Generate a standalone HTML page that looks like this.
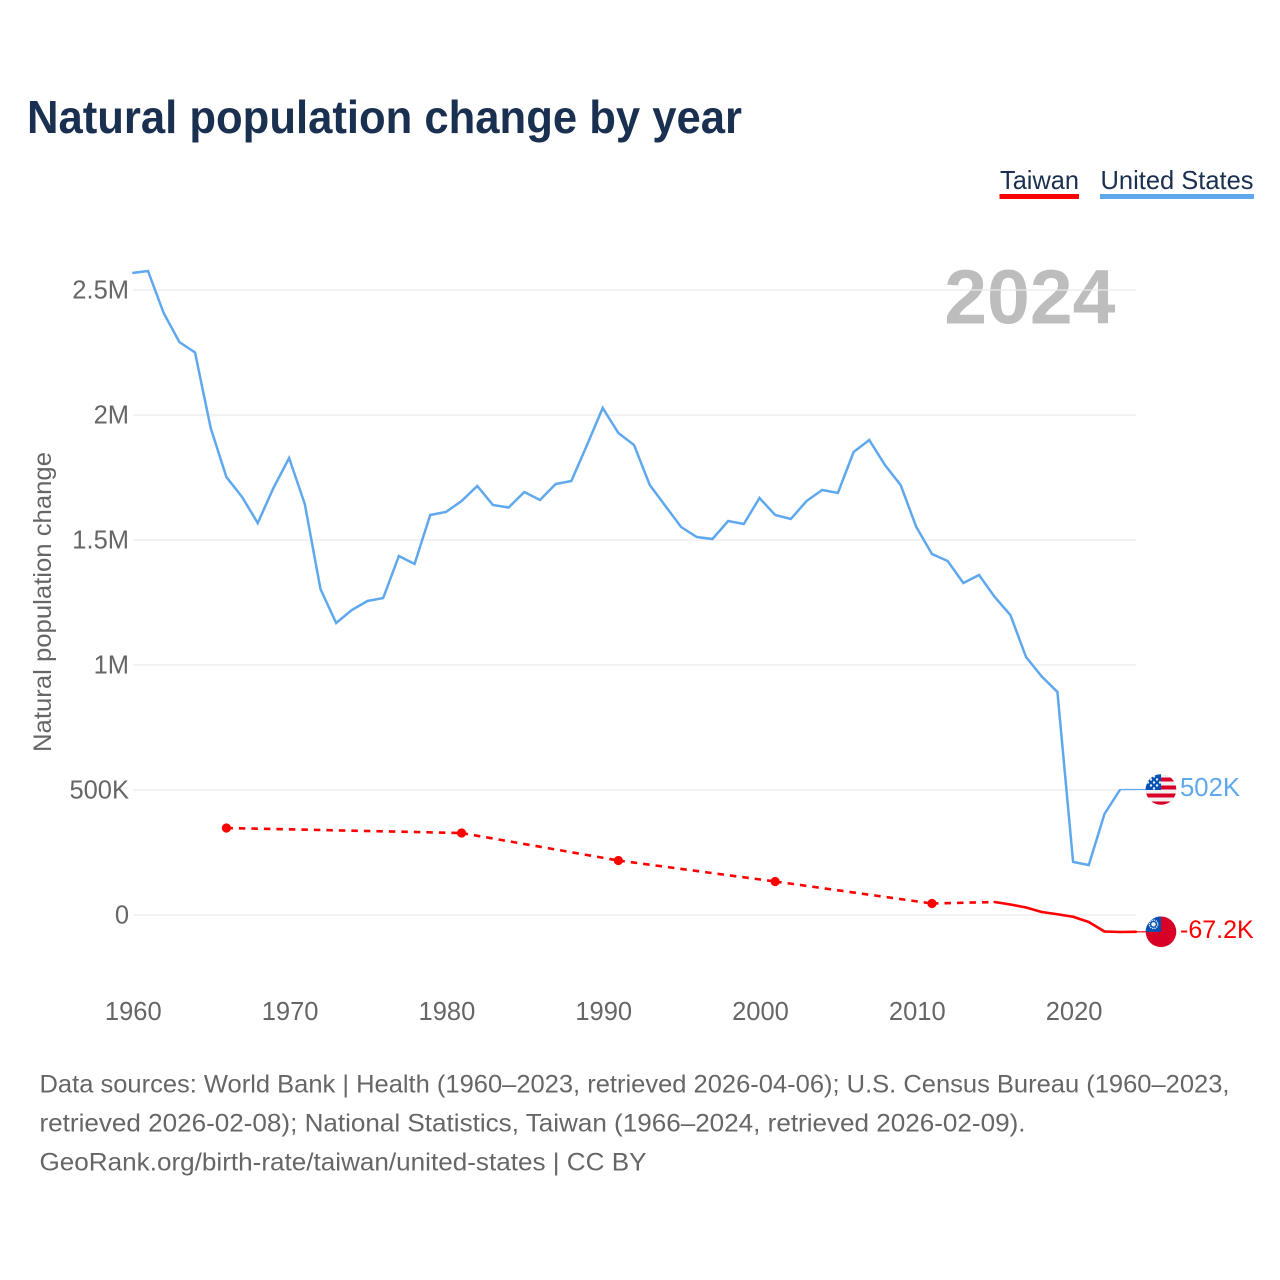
<!DOCTYPE html>
<html lang="en">
<head>
<meta charset="utf-8">
<title>Natural population change by year</title>
<style>
html,body{margin:0;padding:0;background:#fff;}
svg{display:block;font-family:"Liberation Sans",sans-serif;}
</style>
</head>
<body>
<svg id="chart" xmlns="http://www.w3.org/2000/svg" width="1280" height="1280" viewBox="0 0 1280 1280">
<defs>
<clipPath id="flagClip"><circle cx="0" cy="0" r="15.3"/></clipPath>
</defs>
<rect width="1280" height="1280" fill="#fff"/>
<text x="27" y="133" font-size="46" font-weight="700" fill="#1a3050" textLength="715" lengthAdjust="spacingAndGlyphs">Natural population change by year</text>
<g>
<g>
<text x="1000" y="189" font-size="26" fill="#1a3050" textLength="79" lengthAdjust="spacingAndGlyphs">Taiwan</text>
<rect x="999.5" y="194" width="79.5" height="5" fill="#ff0000"/>
</g>
<g>
<text x="1100.5" y="189" font-size="26" fill="#1a3050" textLength="153" lengthAdjust="spacingAndGlyphs">United States</text>
<rect x="1100" y="194" width="154" height="5" fill="#5fa8ee"/>
</g>
</g>
<text x="1115.5" y="323.5" font-size="77" font-weight="700" fill="#bdbdbd" text-anchor="end">2024</text>
<g id="grid"></g>
<g id="yticks"></g>
<g id="xticks"></g>
<text transform="translate(51,602) rotate(-90)" font-size="25" fill="#666" text-anchor="middle" textLength="300" lengthAdjust="spacingAndGlyphs">Natural population change</text>
<g id="series"></g>
<g font-size="25" fill="#666">
<text x="39.5" y="1092.5" textLength="1190" lengthAdjust="spacingAndGlyphs">Data sources: World Bank | Health (1960–2023, retrieved 2026-04-06); U.S. Census Bureau (1960–2023,</text>
<text x="39.5" y="1131.5" textLength="986" lengthAdjust="spacingAndGlyphs">retrieved 2026-02-08); National Statistics, Taiwan (1966–2024, retrieved 2026-02-09).</text>
<text x="39.5" y="1170.5" textLength="607" lengthAdjust="spacingAndGlyphs">GeoRank.org/birth-rate/taiwan/united-states | CC BY</text>
</g>
</svg>
<script>
const yTicks = [0, 500000, 1000000, 1500000, 2000000, 2500000];
const yTickLabels = ["0", "500K", "1M", "1.5M", "2M", "2.5M"];
const xTicks = [1960, 1970, 1980, 1990, 2000, 2010, 2020];
const usYears = [1960,1961,1962,1963,1964,1965,1966,1967,1968,1969,1970,1971,1972,1973,1974,1975,1976,1977,1978,1979,1980,1981,1982,1983,1984,1985,1986,1987,1988,1989,1990,1991,1992,1993,1994,1995,1996,1997,1998,1999,2000,2001,2002,2003,2004,2005,2006,2007,2008,2009,2010,2011,2012,2013,2014,2015,2016,2017,2018,2019,2020,2021,2022,2023];
const usValues = [2568000,2576000,2408000,2292000,2250000,1948000,1752000,1672000,1568000,1708000,1828000,1644000,1304000,1168000,1220000,1256000,1268000,1436000,1404000,1600000,1612000,1656000,1716000,1640000,1630000,1692000,1660000,1724000,1736000,1880000,2028000,1928000,1880000,1720000,1636000,1552000,1512000,1504000,1576000,1564000,1668000,1600000,1584000,1656000,1700000,1688000,1852000,1900000,1800000,1720000,1552000,1444000,1416000,1328000,1360000,1272000,1200000,1032000,954000,892000,212000,200000,404000,502000];
const taiwanYears = [1966,1981,1991,2001,2011,2015,2016,2017,2018,2019,2020,2021,2022,2023,2024];
const taiwanValues = [348000,328000,218000,134000,46000,52000,42000,30000,12000,3000,-7000,-28000,-66000,-68000,-67200];
const usEndLabel = "502K";
const taiwanEndLabel = "-67.2K";

const NS = "http://www.w3.org/2000/svg";
const xScale = year => 132.3 + (year - 1960) * 15.68;
const yScale = value => 915 - value / 1000000 * 250;
const BLUE = "#5fa8ee";
const RED = "#ff0000";
const FLAG_X = 1161;

function make(parent, tag, attrs, text) {
  const el = document.createElementNS(NS, tag);
  for (const k in attrs) el.setAttribute(k, attrs[k]);
  if (text !== undefined) el.textContent = text;
  parent.appendChild(el);
  return el;
}

const gridG = document.getElementById("grid");
const yG = document.getElementById("yticks");
const xG = document.getElementById("xticks");
const seriesG = document.getElementById("series");

yTicks.forEach((v, i) => {
  const line = make(gridG, "line", {x1: 133, x2: 1136, y1: yScale(v), y2: yScale(v), stroke: "#e9e9e9", "stroke-width": 1.2});
  
  
  const label = make(yG, "text", {x: 129, y: yScale(v) + 8.5, "font-size": 25.5, fill: "#666", "text-anchor": "end"}, yTickLabels[i]);
  
  
});

xTicks.forEach(t => {
  const label = make(xG, "text", {x: xScale(t) + 1, y: 1020, "font-size": 25.5, fill: "#666", "text-anchor": "middle"}, String(t));
  
  
});

function pts(years, values) {
  return years.map((y, i) => xScale(y).toFixed(2) + "," + yScale(values[i]).toFixed(2)).join(" ");
}

/* United States */
const usLine = make(seriesG, "polyline", {points: pts(usYears, usValues), fill: "none", stroke: BLUE, "stroke-width": 2.5, "stroke-linejoin": "miter"});



const usLast = usValues[usValues.length - 1];
const usLastYear = usYears[usYears.length - 1];
const usConn = make(seriesG, "line", {x1: xScale(usLastYear), x2: FLAG_X - 15, y1: yScale(usLast), y2: yScale(usLast), stroke: BLUE, "stroke-width": 1.2});



/* Taiwan: dashed across gaps, solid across consecutive years */
taiwanYears.forEach((yr, i) => {
  if (i === 0) return;
  const prev = taiwanYears[i - 1];
  const gap = yr - prev > 1;
  const seg = make(seriesG, "line", {
    x1: xScale(prev), y1: yScale(taiwanValues[i - 1]),
    x2: xScale(yr), y2: yScale(taiwanValues[i]),
    stroke: RED, "stroke-width": 2.6, "stroke-linecap": gap ? "butt" : "round"
  });
  if (gap) seg.setAttribute("stroke-dasharray", "6.5 6");
  
  
  const isolatedPrev = gap && (i === 1 || prev - taiwanYears[i - 2] > 1);
  if (isolatedPrev) {
    const dot = make(seriesG, "circle", {cx: xScale(prev), cy: yScale(taiwanValues[i - 1]), r: 4.6, fill: RED});
    
    
  }
});

const twLast = taiwanValues[taiwanValues.length - 1];
const twLastYear = taiwanYears[taiwanYears.length - 1];
const twConn = make(seriesG, "line", {x1: xScale(twLastYear), x2: FLAG_X - 15, y1: yScale(twLast), y2: yScale(twLast), stroke: RED, "stroke-width": 1.2});



/* US flag */
const usFlag = make(seriesG, "g", {transform: "translate(" + FLAG_X + "," + yScale(usLast) + ")", "clip-path": "url(#flagClip)"});


make(usFlag, "rect", {x: -16, y: -16, width: 32, height: 32, fill: "#f0f0f0"});
[-12, -4, 4, 12].forEach(off => {
  make(usFlag, "rect", {x: -16, y: off, width: 32, height: 4, fill: "#d80027"});
});
make(usFlag, "rect", {x: -16, y: -16, width: 16, height: 16.5, fill: "#0052b4"});
[[-10,-10],[-4,-10],[-10,-4],[-4,-4],[-7,-7],[-13,-7],[-1,-7],[-7,-13],[-7,-1]].forEach(p => {
  make(usFlag, "circle", {cx: p[0], cy: p[1], r: 1.2, fill: "#f0f0f0"});
});

/* Taiwan flag */
const twFlag = make(seriesG, "g", {transform: "translate(" + FLAG_X + "," + yScale(twLast) + ")", "clip-path": "url(#flagClip)"});


make(twFlag, "rect", {x: -16, y: -16, width: 32, height: 32, fill: "#d80027"});
make(twFlag, "rect", {x: -16, y: -16, width: 16, height: 16, fill: "#0052b4"});
make(twFlag, "circle", {cx: -7.5, cy: -7.5, r: 4.2, fill: "none", stroke: "#f0f0f0", "stroke-width": 1.4, "stroke-dasharray": "1.3 0.9"});
make(twFlag, "circle", {cx: -7.5, cy: -7.5, r: 2.2, fill: "#f0f0f0"});

/* End labels */
const usLabel = make(seriesG, "text", {x: 1180, y: yScale(usLast) + 6.5, "font-size": 25.7, fill: BLUE}, usEndLabel);


const twLabel = make(seriesG, "text", {x: 1180, y: yScale(twLast) + 6, "font-size": 25, fill: RED}, taiwanEndLabel);


</script>
</body>
</html>
